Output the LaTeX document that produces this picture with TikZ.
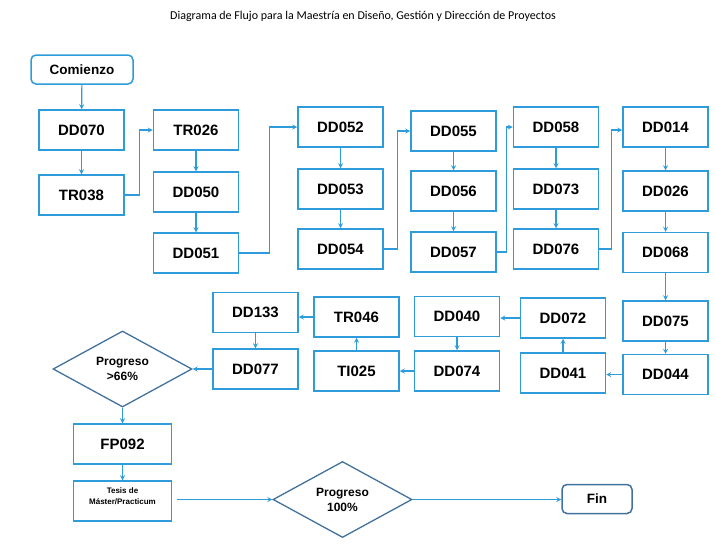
\documentclass[tikz,border=0pt]{standalone}
\usepackage{fontspec}
\setmainfont{Liberation Sans}
\newfontfamily\titlefont{Carlito}
\usetikzlibrary{shapes.geometric, arrows}
\definecolor{boxblue}{RGB}{46,155,218}
\definecolor{darkblue}{RGB}{65,113,156}
\tikzstyle{course} = [rectangle, minimum width=85pt, minimum height=40pt, inner sep=0, draw=boxblue, line width=1.5pt, font=\fontsize{15}{17}\selectfont\bfseries]
\tikzstyle{widecourse} = [course, minimum width=98pt]
\tikzstyle{terminal} = [rectangle, rounded corners=5pt, minimum height=29pt, inner sep=0, line width=1.5pt, font=\fontsize{13.5}{16}\selectfont\bfseries]
\tikzstyle{check} = [diamond, minimum width=139pt, minimum height=76pt, inner sep=0, draw=darkblue, line width=1.3pt, align=center, font=\fontsize{12}{15}\selectfont\bfseries]
\tikzstyle{arrow} = [line width=1.2pt, draw=boxblue, ->, >=stealth]
\begin{document}
\begin{tikzpicture}[x=1pt,y=-1pt]
\useasboundingbox (0,0) rectangle (716,544);
\node (title) at (363,16) {\titlefont\fontsize{12}{14}\selectfont Diagrama de Flujo para la Maestría en Diseño, Gestión y Dirección de Proyectos};

\node[terminal, draw=boxblue, minimum width=102pt] (start) at (82,69.5) {Comienzo};
\node[course] (dd070) at (81.5,130) {DD070};
\node[course] (tr038) at (81.5,195) {TR038};
\node[course] (tr026) at (196,130) {TR026};
\node[course] (dd050) at (196,192) {DD050};
\node[course] (dd051) at (196,253) {DD051};
\node[course] (dd052) at (340.5,127) {DD052};
\node[course] (dd053) at (340.5,189) {DD053};
\node[course] (dd054) at (340.5,249) {DD054};
\node[course] (dd055) at (453.5,131) {DD055};
\node[course] (dd056) at (453.5,191) {DD056};
\node[course] (dd057) at (453.5,252) {DD057};
\node[course] (dd058) at (556,127) {DD058};
\node[course] (dd073) at (556,189) {DD073};
\node[course] (dd076) at (556,249) {DD076};
\node[course] (dd014) at (665.5,127) {DD014};
\node[course] (dd026) at (665.5,191) {DD026};
\node[course] (dd068) at (665.5,252.5) {DD068};
\node[course] (dd075) at (665.5,321) {DD075};
\node[course] (dd044) at (665.5,374.5) {DD044};
\node[course] (dd072) at (563,318) {DD072};
\node[course] (dd041) at (563,373) {DD041};
\node[course] (dd040) at (457,316.5) {DD040};
\node[course] (dd074) at (457,371) {DD074};
\node[course] (tr046) at (356.5,317) {TR046};
\node[course] (ti025) at (356.5,371) {TI025};
\node[course] (dd133) at (255.5,312.5) {DD133};
\node[course] (dd077) at (255.5,369) {DD077};
\node[check] (half) at (122.5,369) {Progreso\\>66\%};
\node[widecourse] (fp092) at (122.5,444) {FP092};
\node[widecourse, font=\fontsize{8}{11}\selectfont\bfseries, align=center, text depth=9pt] (thesis) at (122.5,501) {Tesis de\\Máster/Practicum};
\node[check] (full) at (342.5,499.5) {Progreso\\100\%};
\node[terminal, draw=darkblue, minimum width=70pt] (finish) at (597,499) {Fin};

\draw[arrow] (start) -- (dd070);
\draw[arrow] (dd070) -- (tr038);
\draw[arrow] (tr038.east) -- ++(15,0) |- (tr026.west);
\draw[arrow] (tr026) -- (dd050);
\draw[arrow] (dd050) -- (dd051);
\draw[arrow] (dd051.east) -- ++(30,0) |- (dd052.west);
\draw[arrow] (dd052) -- (dd053);
\draw[arrow] (dd053) -- (dd054);
\draw[arrow] (dd054.east) -- ++(14,0) |- (dd055.west);
\draw[arrow] (dd055) -- (dd056);
\draw[arrow] (dd056) -- (dd057);
\draw[arrow] (dd057.east) -- ++(10,0) |- (dd058.west);
\draw[arrow] (dd058) -- (dd073);
\draw[arrow] (dd073) -- (dd076);
\draw[arrow] (dd076.east) -- ++(12,0) |- ([yshift=-3pt]dd014.west);
\draw[arrow] (dd014) -- (dd026);
\draw[arrow] (dd026) -- (dd068);
\draw[arrow] (dd068) -- (dd075);
\draw[arrow] (dd075) -- (dd044);
\draw[arrow] (dd044.west) -- (dd044.west -| dd041.east);
\draw[arrow] (dd041) -- (dd072);
\draw[arrow] (dd072.west) -- (dd072.west -| dd040.east);
\draw[arrow] (dd040) -- (dd074);
\draw[arrow] (dd074.west) -- (dd074.west -| ti025.east);
\draw[arrow] (ti025) -- (tr046);
\draw[arrow] (tr046.west) -- (tr046.west -| dd133.east);
\draw[arrow] (dd133) -- (dd077);
\draw[arrow] (dd077) -- (half);
\draw[arrow] (half) -- (fp092);
\draw[arrow] (fp092) -- (thesis);
\draw[arrow] ([xshift=5pt]thesis.east |- full.west) -- (full.west);
\draw[arrow] (full.east) -- (full.east -| finish.west);
\end{tikzpicture}
\end{document}
